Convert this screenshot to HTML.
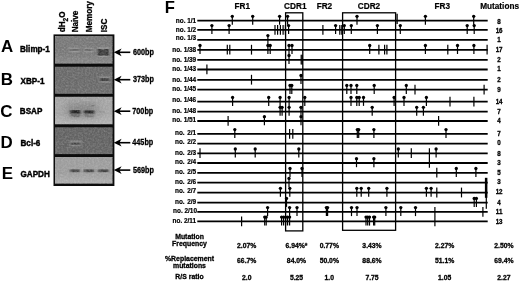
<!DOCTYPE html>
<html><head><meta charset="utf-8"><title>Figure</title>
<style>html,body{margin:0;padding:0;background:#fff;}body{width:520px;height:281px;position:relative;overflow:hidden;}</style></head>
<body>
<svg width="520" height="281" viewBox="0 0 520 281" style="position:absolute;left:0;top:0" font-family="'Liberation Sans', sans-serif" font-weight="bold" fill="#000">
<defs><filter id="b1" x="-50%" y="-200%" width="200%" height="500%"><feGaussianBlur stdDeviation="1.1 0.7"/></filter><filter id="b3" x="-50%" y="-50%" width="200%" height="200%"><feGaussianBlur stdDeviation="5 3.5"/></filter><filter id="b2" x="-50%" y="-200%" width="200%" height="500%"><feGaussianBlur stdDeviation="0.8"/></filter><filter id="noise" x="0" y="0" width="100%" height="100%"><feTurbulence type="fractalNoise" baseFrequency="0.55" numOctaves="2" seed="3" result="n"/><feColorMatrix type="matrix" values="0 0 0 0 1  0 0 0 0 1  0 0 0 0 1  0.5 0.5 0.5 0 -0.62"/></filter></defs>
<rect x="53.5" y="34.4" width="60.9" height="151.6" fill="#0c0c0c"/>
<linearGradient id="pg0" x1="0" y1="0" x2="0" y2="1"><stop offset="0" stop-color="#777777"/><stop offset="0.6" stop-color="#777777"/><stop offset="1" stop-color="#888888"/></linearGradient>
<rect x="55" y="36" width="57.5" height="27.8" fill="url(#pg0)"/>
<linearGradient id="pg1" x1="0" y1="0" x2="0" y2="1"><stop offset="0" stop-color="#696969"/><stop offset="0.6" stop-color="#696969"/><stop offset="1" stop-color="#6d6d6d"/></linearGradient>
<rect x="55" y="66.5" width="57.5" height="27.4" fill="url(#pg1)"/>
<linearGradient id="pg2" x1="0" y1="0" x2="0" y2="1"><stop offset="0" stop-color="#a4a4a4"/><stop offset="0.6" stop-color="#a4a4a4"/><stop offset="1" stop-color="#b2b2b2"/></linearGradient>
<rect x="55" y="96.5" width="57.5" height="28.0" fill="url(#pg2)"/>
<linearGradient id="pg3" x1="0" y1="0" x2="0" y2="1"><stop offset="0" stop-color="#626262"/><stop offset="0.6" stop-color="#626262"/><stop offset="1" stop-color="#666666"/></linearGradient>
<rect x="55" y="127.1" width="57.5" height="27.2" fill="url(#pg3)"/>
<linearGradient id="pg4" x1="0" y1="0" x2="0" y2="1"><stop offset="0" stop-color="#9c9c9c"/><stop offset="0.6" stop-color="#9c9c9c"/><stop offset="1" stop-color="#adadad"/></linearGradient>
<rect x="55" y="156.8" width="57.5" height="26.8" fill="url(#pg4)"/>
<clipPath id="cpC"><rect x="55" y="96.5" width="57.5" height="28"/></clipPath><g clip-path="url(#cpC)"><rect x="67" y="103" width="30" height="14" fill="#6a6a6a" opacity="0.55" filter="url(#b3)"/></g>
<rect x="68.5" y="47.5" width="11" height="5" fill="#a8a8a8" opacity="0.45" filter="url(#b1)"/>
<rect x="83.7" y="47.5" width="10" height="5" fill="#a8a8a8" opacity="0.45" filter="url(#b1)"/>
<rect x="96.9" y="47.0" width="13" height="10" fill="#a0a0a0" opacity="0.5" filter="url(#b1)"/>
<rect x="69.2" y="49.1" width="9.5" height="1.8" fill="#555" opacity="0.75" filter="url(#b1)"/>
<rect x="84.7" y="49.1" width="8" height="1.8" fill="#555" opacity="0.75" filter="url(#b1)"/>
<rect x="98.0" y="49.0" width="4.4" height="6.6" fill="#262626" opacity="0.92" filter="url(#b1)"/>
<rect x="104.1" y="49.0" width="4.4" height="6.6" fill="#262626" opacity="0.92" filter="url(#b1)"/>
<rect x="98.8" y="50.1" width="9" height="5" fill="#3a3a3a" opacity="0.8" filter="url(#b1)"/>
<rect x="99.2" y="76.3" width="11" height="6.5" fill="#a0a0a0" opacity="0.5" filter="url(#b1)"/>
<rect x="100.2" y="78.1" width="9" height="3" fill="#383838" opacity="0.95" filter="url(#b1)"/>
<rect x="70.3" y="110.2" width="9.8" height="3.4" fill="#1c1c1c" opacity="0.95" filter="url(#b1)"/>
<rect x="70.5" y="113.2" width="9.5" height="4" fill="#555" opacity="0.6" filter="url(#b1)"/>
<rect x="84.2" y="110.4" width="9.8" height="3.2" fill="#242424" opacity="0.95" filter="url(#b1)"/>
<rect x="84.3" y="113.2" width="9.5" height="4" fill="#606060" opacity="0.5" filter="url(#b1)"/>
<rect x="98.5" y="111.2" width="7" height="1.5" fill="#888" opacity="0.5" filter="url(#b1)"/>
<rect x="92.0" y="104.9" width="1.6" height="1.4" fill="#555" opacity="0.8" filter="url(#b1)"/>
<rect x="69.7" y="140.3" width="12" height="6" fill="#a0a0a0" opacity="0.5" filter="url(#b1)"/>
<rect x="71.1" y="142.7" width="9.2" height="2" fill="#3c3c3c" opacity="0.95" filter="url(#b1)"/>
<rect x="70.2" y="169.4" width="9.5" height="2.8" fill="#3a3a3a" opacity="0.9" filter="url(#b1)"/>
<rect x="84.0" y="169.4" width="10" height="2.8" fill="#3e3e3e" opacity="0.9" filter="url(#b1)"/>
<rect x="98.4" y="169.4" width="10" height="2.8" fill="#383838" opacity="0.9" filter="url(#b1)"/>
<rect x="55" y="36" width="57.5" height="147.6" filter="url(#noise)" opacity="0.42"/>
<rect x="54" y="63.8" width="60" height="2.7" fill="#0c0c0c"/>
<rect x="54" y="93.9" width="60" height="2.7" fill="#0c0c0c"/>
<rect x="54" y="124.5" width="60" height="2.7" fill="#0c0c0c"/>
<rect x="54" y="154.3" width="60" height="2.7" fill="#0c0c0c"/>
<path d="M130.3 52.3 L117 52.3" stroke="#000" stroke-width="1.6" fill="none"/>
<path d="M113.8 52.3 L121.6 48.4 L119.4 52.3 L121.6 56.199999999999996 Z" fill="#000"/>
<path d="M130.3 79.7 L117 79.7" stroke="#000" stroke-width="1.6" fill="none"/>
<path d="M113.8 79.7 L121.6 75.8 L119.4 79.7 L121.6 83.60000000000001 Z" fill="#000"/>
<path d="M130.3 111.2 L117 111.2" stroke="#000" stroke-width="1.6" fill="none"/>
<path d="M113.8 111.2 L121.6 107.3 L119.4 111.2 L121.6 115.10000000000001 Z" fill="#000"/>
<path d="M130.3 142.7 L117 142.7" stroke="#000" stroke-width="1.6" fill="none"/>
<path d="M113.8 142.7 L121.6 138.79999999999998 L119.4 142.7 L121.6 146.6 Z" fill="#000"/>
<path d="M130.3 170.1 L117 170.1" stroke="#000" stroke-width="1.6" fill="none"/>
<path d="M113.8 170.1 L121.6 166.2 L119.4 170.1 L121.6 174.0 Z" fill="#000"/>
<text transform="translate(133.0 54.8) scale(0.865 1)" font-size="8.4" text-anchor="start" stroke="#000" stroke-width="0.3">600bp</text>
<text transform="translate(133.0 81.9) scale(0.865 1)" font-size="8.4" text-anchor="start" stroke="#000" stroke-width="0.3">373bp</text>
<text transform="translate(132.3 113.8) scale(0.865 1)" font-size="8.4" text-anchor="start" stroke="#000" stroke-width="0.3">700bp</text>
<text transform="translate(132.3 145.3) scale(0.865 1)" font-size="8.4" text-anchor="start" stroke="#000" stroke-width="0.3">445bp</text>
<text transform="translate(133.0 173.1) scale(0.865 1)" font-size="8.4" text-anchor="start" stroke="#000" stroke-width="0.3">569bp</text>
<text x="1.1" y="51.9" font-size="16.9">A</text>
<text x="0.8" y="84.9" font-size="16.9">B</text>
<text x="0.3" y="116.5" font-size="16.9">C</text>
<text x="0.5" y="148" font-size="16.9">D</text>
<text x="1.8" y="179" font-size="16.9">E</text>
<text transform="translate(20.0 51.7) scale(0.945 1)" font-size="8.6" text-anchor="start" stroke="#000" stroke-width="0.4">Blimp-1</text>
<text transform="translate(20.5 83.6) scale(0.945 1)" font-size="8.6" text-anchor="start" stroke="#000" stroke-width="0.4">XBP-1</text>
<text transform="translate(19.8 113.7) scale(0.945 1)" font-size="8.6" text-anchor="start" stroke="#000" stroke-width="0.4">BSAP</text>
<text transform="translate(20.5 146) scale(0.945 1)" font-size="8.6" text-anchor="start" stroke="#000" stroke-width="0.4">Bcl-6</text>
<text transform="translate(20.5 176.8) scale(0.945 1)" font-size="8.6" text-anchor="start" stroke="#000" stroke-width="0.4">GAPDH</text>
<text transform="translate(64.5 32.3) rotate(-90) scale(0.885 1)" font-size="9.2" text-anchor="start" stroke="#000" stroke-width="0.3">dH<tspan font-size="7.4" dy="3">2</tspan><tspan dy="-3">O</tspan></text>
<text transform="translate(77.8 32.3) rotate(-90) scale(0.885 1)" font-size="9.2" text-anchor="start" stroke="#000" stroke-width="0.3">Naive</text>
<text transform="translate(91.9 32.3) rotate(-90) scale(0.885 1)" font-size="9.2" text-anchor="start" stroke="#000" stroke-width="0.3">Memory</text>
<text transform="translate(106.8 32.3) rotate(-90) scale(0.885 1)" font-size="9.2" text-anchor="start" stroke="#000" stroke-width="0.3">ISC</text>
<text x="164.8" y="12.6" font-size="16.6">F</text>
<text transform="translate(242.3 9.4) scale(0.925 1)" font-size="8.9" text-anchor="middle" stroke="#000" stroke-width="0.2">FR1</text>
<text transform="translate(295.3 9.4) scale(0.925 1)" font-size="8.9" text-anchor="middle" stroke="#000" stroke-width="0.2">CDR1</text>
<text transform="translate(324.4 9.4) scale(0.925 1)" font-size="8.9" text-anchor="middle" stroke="#000" stroke-width="0.2">FR2</text>
<text transform="translate(369 9.4) scale(0.925 1)" font-size="8.9" text-anchor="middle" stroke="#000" stroke-width="0.2">CDR2</text>
<text transform="translate(442.3 9.4) scale(0.925 1)" font-size="8.9" text-anchor="middle" stroke="#000" stroke-width="0.2">FR3</text>
<text transform="translate(499.6 9.4) scale(0.925 1)" font-size="8.9" text-anchor="middle" stroke="#000" stroke-width="0.2">Mutations</text>
<rect x="285.6" y="12.8" width="17.2" height="218.1" fill="none" stroke="#000" stroke-width="1.3"/>
<rect x="342.6" y="12.8" width="53" height="217.5" fill="none" stroke="#000" stroke-width="1.3"/>
<text x="196.2" y="22.85" text-anchor="end" font-size="6.45" stroke="#000" stroke-width="0.2">no. 1/1</text>
<path d="M197.3 20.6 L487.7 20.6" stroke="#000" stroke-width="1.8"/>
<text transform="translate(499.1 24.1) scale(0.9 1)" font-size="6.9" text-anchor="middle" stroke="#000" stroke-width="0.3">8</text>
<path d="M232.3 16.4 V24.8" stroke="#000" stroke-width="1.2"/>
<circle cx="232.3" cy="16.3" r="1.65"/>
<path d="M252.7 16.4 V24.8" stroke="#000" stroke-width="1.2"/>
<circle cx="252.7" cy="16.3" r="1.65"/>
<path d="M279.6 16.4 V24.8" stroke="#000" stroke-width="1.2"/>
<circle cx="279.6" cy="16.3" r="1.65"/>
<path d="M287.6 16.4 V24.8" stroke="#000" stroke-width="1.2"/>
<circle cx="287.6" cy="16.3" r="1.65"/>
<path d="M357 16.4 V24.8" stroke="#000" stroke-width="1.2"/>
<circle cx="357" cy="16.3" r="1.65"/>
<path d="M425.4 16.4 V24.8" stroke="#000" stroke-width="1.2"/>
<circle cx="425.4" cy="16.3" r="1.65"/>
<path d="M473.7 16.4 V24.8" stroke="#000" stroke-width="1.2"/>
<circle cx="473.7" cy="16.3" r="1.65"/>
<text x="196.2" y="31.95" text-anchor="end" font-size="6.45" stroke="#000" stroke-width="0.2">no. 1/2</text>
<path d="M197.3 29.9 L487.7 29.9" stroke="#000" stroke-width="1.8"/>
<text transform="translate(499.1 32.85) scale(0.9 1)" font-size="6.9" text-anchor="middle" stroke="#000" stroke-width="0.3">16</text>
<path d="M211.9 25.7 V34.1" stroke="#000" stroke-width="1.2"/>
<circle cx="211.9" cy="25.6" r="1.65"/>
<path d="M229.1 25.7 V34.1" stroke="#000" stroke-width="1.2"/>
<circle cx="229.1" cy="25.6" r="1.65"/>
<path d="M288.6 25.7 V34.1" stroke="#000" stroke-width="1.2"/>
<circle cx="288.6" cy="25.6" r="1.65"/>
<path d="M335.6 25.7 V34.1" stroke="#000" stroke-width="1.2"/>
<circle cx="335.6" cy="25.6" r="1.65"/>
<path d="M344.3 25.7 V34.1" stroke="#000" stroke-width="1.2"/>
<circle cx="344.3" cy="25.6" r="1.65"/>
<path d="M351.3 25.7 V34.1" stroke="#000" stroke-width="1.2"/>
<circle cx="351.3" cy="25.6" r="1.65"/>
<path d="M377.4 25.7 V34.1" stroke="#000" stroke-width="1.2"/>
<circle cx="377.4" cy="25.6" r="1.65"/>
<path d="M400.3 25.7 V34.1" stroke="#000" stroke-width="1.2"/>
<circle cx="400.3" cy="25.6" r="1.65"/>
<path d="M467.2 25.7 V34.1" stroke="#000" stroke-width="1.2"/>
<circle cx="467.2" cy="25.6" r="1.65"/>
<path d="M474.2 25.7 V34.1" stroke="#000" stroke-width="1.2"/>
<circle cx="474.2" cy="25.6" r="1.65"/>
<path d="M275 24.9 V34.7" stroke="#000" stroke-width="1.2"/>
<path d="M277.6 24.9 V34.7" stroke="#000" stroke-width="1.2"/>
<path d="M280.4 24.9 V34.7" stroke="#000" stroke-width="1.2"/>
<path d="M283.1 24.9 V34.7" stroke="#000" stroke-width="1.2"/>
<path d="M285.4 24.9 V34.7" stroke="#000" stroke-width="1.2"/>
<path d="M322.9 24.9 V34.7" stroke="#000" stroke-width="1.2"/>
<path d="M339.8 24.9 V34.7" stroke="#000" stroke-width="1.2"/>
<path d="M341.8 24.9 V34.7" stroke="#000" stroke-width="1.2"/>
<text x="196.2" y="39.95" text-anchor="end" font-size="6.45" stroke="#000" stroke-width="0.2">no. 1/3</text>
<path d="M197.3 39.9 L487.7 39.9" stroke="#000" stroke-width="1.8"/>
<text transform="translate(499.1 42.45) scale(0.9 1)" font-size="6.9" text-anchor="middle" stroke="#000" stroke-width="0.3">1</text>
<path d="M267.9 35.7 V44.1" stroke="#000" stroke-width="1.2"/>
<circle cx="267.9" cy="35.6" r="1.65"/>
<text x="196.2" y="51.95" text-anchor="end" font-size="6.45" stroke="#000" stroke-width="0.2">no. 1/38</text>
<path d="M197.3 49.8 L487.7 49.8" stroke="#000" stroke-width="1.8"/>
<text transform="translate(499.1 51.75) scale(0.9 1)" font-size="6.9" text-anchor="middle" stroke="#000" stroke-width="0.3">17</text>
<path d="M200 45.6 V54.0" stroke="#000" stroke-width="1.2"/>
<circle cx="200" cy="45.5" r="1.65"/>
<path d="M267.9 45.6 V54.0" stroke="#000" stroke-width="1.2"/>
<circle cx="267.9" cy="45.5" r="1.65"/>
<path d="M270.2 45.6 V54.0" stroke="#000" stroke-width="1.2"/>
<circle cx="270.2" cy="45.5" r="1.65"/>
<path d="M289 45.6 V54.0" stroke="#000" stroke-width="1.2"/>
<circle cx="289" cy="45.5" r="1.65"/>
<path d="M292 45.6 V54.0" stroke="#000" stroke-width="1.2"/>
<circle cx="292" cy="45.5" r="1.65"/>
<path d="M369.7 45.6 V54.0" stroke="#000" stroke-width="1.2"/>
<circle cx="369.7" cy="45.5" r="1.65"/>
<path d="M425.4 45.6 V54.0" stroke="#000" stroke-width="1.2"/>
<circle cx="425.4" cy="45.5" r="1.65"/>
<path d="M457.5 45.6 V54.0" stroke="#000" stroke-width="1.2"/>
<circle cx="457.5" cy="45.5" r="1.65"/>
<path d="M473.9 45.6 V54.0" stroke="#000" stroke-width="1.2"/>
<circle cx="473.9" cy="45.5" r="1.65"/>
<path d="M227.3 44.8 V54.6" stroke="#000" stroke-width="1.2"/>
<path d="M229.8 44.8 V54.6" stroke="#000" stroke-width="1.2"/>
<path d="M251.5 44.8 V54.6" stroke="#000" stroke-width="1.2"/>
<path d="M378.9 44.8 V54.6" stroke="#000" stroke-width="1.2"/>
<path d="M384.6 44.8 V54.6" stroke="#000" stroke-width="1.2"/>
<path d="M386.9 44.8 V54.6" stroke="#000" stroke-width="1.2"/>
<path d="M447.8 44.8 V54.6" stroke="#000" stroke-width="1.2"/>
<path d="M487.1 44.8 V54.6" stroke="#000" stroke-width="1.2"/>
<text x="196.2" y="61.95" text-anchor="end" font-size="6.45" stroke="#000" stroke-width="0.2">no. 1/39</text>
<path d="M197.3 59.8 L487.7 59.8" stroke="#000" stroke-width="1.8"/>
<text transform="translate(499.1 62.15) scale(0.9 1)" font-size="6.9" text-anchor="middle" stroke="#000" stroke-width="0.3">2</text>
<path d="M289 55.6 V64.0" stroke="#000" stroke-width="1.2"/>
<circle cx="289" cy="55.5" r="1.65"/>
<path d="M301.2 54.8 V64.6" stroke="#000" stroke-width="1.2"/>
<path d="M302.2 54.8 V64.6" stroke="#000" stroke-width="1.2"/>
<text x="196.2" y="71.35" text-anchor="end" font-size="6.45" stroke="#000" stroke-width="0.2">no. 1/43</text>
<path d="M197.3 69.5 L487.7 69.5" stroke="#000" stroke-width="1.8"/>
<text transform="translate(499.1 71.45) scale(0.9 1)" font-size="6.9" text-anchor="middle" stroke="#000" stroke-width="0.3">1</text>
<path d="M206.9 64.5 V74.3" stroke="#000" stroke-width="1.2"/>
<text x="196.2" y="81.75" text-anchor="end" font-size="6.45" stroke="#000" stroke-width="0.2">no. 1/44</text>
<path d="M197.3 79.8 L487.7 79.8" stroke="#000" stroke-width="1.8"/>
<text transform="translate(499.1 81.85) scale(0.9 1)" font-size="6.9" text-anchor="middle" stroke="#000" stroke-width="0.3">2</text>
<path d="M301 75.6 V84.0" stroke="#000" stroke-width="1.2"/>
<circle cx="301" cy="75.5" r="1.65"/>
<path d="M251.5 74.8 V84.6" stroke="#000" stroke-width="1.2"/>
<text x="196.2" y="90.75" text-anchor="end" font-size="6.45" stroke="#000" stroke-width="0.2">no. 1/45</text>
<path d="M197.3 89.7 L487.7 89.7" stroke="#000" stroke-width="1.8"/>
<text transform="translate(499.1 91.75) scale(0.9 1)" font-size="6.9" text-anchor="middle" stroke="#000" stroke-width="0.3">9</text>
<path d="M290 85.5 V93.9" stroke="#000" stroke-width="1.2"/>
<circle cx="290" cy="85.4" r="1.65"/>
<path d="M291.8 85.5 V93.9" stroke="#000" stroke-width="1.2"/>
<circle cx="291.8" cy="85.4" r="1.65"/>
<path d="M346.8 85.5 V93.9" stroke="#000" stroke-width="1.2"/>
<circle cx="346.8" cy="85.4" r="1.65"/>
<path d="M351 85.5 V93.9" stroke="#000" stroke-width="1.2"/>
<circle cx="351" cy="85.4" r="1.65"/>
<path d="M356.8 85.5 V93.9" stroke="#000" stroke-width="1.2"/>
<circle cx="356.8" cy="85.4" r="1.65"/>
<path d="M374.2 85.5 V93.9" stroke="#000" stroke-width="1.2"/>
<circle cx="374.2" cy="85.4" r="1.65"/>
<path d="M406.3 85.5 V93.9" stroke="#000" stroke-width="1.2"/>
<circle cx="406.3" cy="85.4" r="1.65"/>
<path d="M415 84.7 V94.5" stroke="#000" stroke-width="1.2"/>
<path d="M484.1 84.7 V94.5" stroke="#000" stroke-width="1.2"/>
<text x="196.2" y="102.45" text-anchor="end" font-size="6.45" stroke="#000" stroke-width="0.2">no. 1/46</text>
<path d="M197.3 101.7 L487.7 101.7" stroke="#000" stroke-width="1.8"/>
<text transform="translate(499.1 104.35) scale(0.9 1)" font-size="6.9" text-anchor="middle" stroke="#000" stroke-width="0.3">14</text>
<path d="M232.6 97.5 V105.9" stroke="#000" stroke-width="1.2"/>
<circle cx="232.6" cy="97.4" r="1.65"/>
<path d="M268.7 97.5 V105.9" stroke="#000" stroke-width="1.2"/>
<circle cx="268.7" cy="97.4" r="1.65"/>
<path d="M280.1 97.5 V105.9" stroke="#000" stroke-width="1.2"/>
<circle cx="280.1" cy="97.4" r="1.65"/>
<path d="M289.1 97.5 V105.9" stroke="#000" stroke-width="1.2"/>
<circle cx="289.1" cy="97.4" r="1.65"/>
<path d="M304.8 97.5 V105.9" stroke="#000" stroke-width="1.2"/>
<circle cx="304.8" cy="97.4" r="1.65"/>
<path d="M351 97.5 V105.9" stroke="#000" stroke-width="1.2"/>
<circle cx="351" cy="97.4" r="1.65"/>
<path d="M356.8 97.5 V105.9" stroke="#000" stroke-width="1.2"/>
<circle cx="356.8" cy="97.4" r="1.65"/>
<path d="M359.2 97.5 V105.9" stroke="#000" stroke-width="1.2"/>
<circle cx="359.2" cy="97.4" r="1.65"/>
<path d="M363.5 97.5 V105.9" stroke="#000" stroke-width="1.2"/>
<circle cx="363.5" cy="97.4" r="1.65"/>
<path d="M394.1 97.5 V105.9" stroke="#000" stroke-width="1.2"/>
<circle cx="394.1" cy="97.4" r="1.65"/>
<path d="M404 97.5 V105.9" stroke="#000" stroke-width="1.2"/>
<circle cx="404" cy="97.4" r="1.65"/>
<path d="M426.4 97.5 V105.9" stroke="#000" stroke-width="1.2"/>
<circle cx="426.4" cy="97.4" r="1.65"/>
<path d="M450 96.7 V106.5" stroke="#000" stroke-width="1.2"/>
<path d="M473.9 96.7 V106.5" stroke="#000" stroke-width="1.2"/>
<text x="196.2" y="112.65" text-anchor="end" font-size="6.45" stroke="#000" stroke-width="0.2">no. 1/48</text>
<path d="M197.3 111.6 L487.7 111.6" stroke="#000" stroke-width="1.8"/>
<text transform="translate(499.1 114.05) scale(0.9 1)" font-size="6.9" text-anchor="middle" stroke="#000" stroke-width="0.3">7</text>
<path d="M280.1 107.4 V115.8" stroke="#000" stroke-width="1.2"/>
<circle cx="280.1" cy="107.3" r="1.65"/>
<path d="M282.1 107.4 V115.8" stroke="#000" stroke-width="1.2"/>
<circle cx="282.1" cy="107.3" r="1.65"/>
<path d="M289.1 107.4 V115.8" stroke="#000" stroke-width="1.2"/>
<circle cx="289.1" cy="107.3" r="1.65"/>
<path d="M301 107.4 V115.8" stroke="#000" stroke-width="1.2"/>
<circle cx="301" cy="107.3" r="1.65"/>
<path d="M372.2 107.4 V115.8" stroke="#000" stroke-width="1.2"/>
<circle cx="372.2" cy="107.3" r="1.65"/>
<path d="M416.7 107.4 V115.8" stroke="#000" stroke-width="1.2"/>
<circle cx="416.7" cy="107.3" r="1.65"/>
<path d="M423.4 107.4 V115.8" stroke="#000" stroke-width="1.2"/>
<circle cx="423.4" cy="107.3" r="1.65"/>
<text x="196.2" y="121.75" text-anchor="end" font-size="6.45" stroke="#000" stroke-width="0.2">no. 1/51</text>
<path d="M197.3 121.0 L487.7 121.0" stroke="#000" stroke-width="1.8"/>
<text transform="translate(499.1 123.15) scale(0.9 1)" font-size="6.9" text-anchor="middle" stroke="#000" stroke-width="0.3">4</text>
<path d="M264.4 116.8 V125.2" stroke="#000" stroke-width="1.2"/>
<circle cx="264.4" cy="116.7" r="1.65"/>
<path d="M301 116.8 V125.2" stroke="#000" stroke-width="1.2"/>
<circle cx="301" cy="116.7" r="1.65"/>
<path d="M228.1 116.0 V125.8" stroke="#000" stroke-width="1.2"/>
<path d="M438.6 116.0 V125.8" stroke="#000" stroke-width="1.2"/>
<text x="175" y="135.25" font-size="6.45" stroke="#000" stroke-width="0.2">no.</text><text x="196.2" y="135.25" text-anchor="end" font-size="6.45" stroke="#000" stroke-width="0.2">2/1</text>
<path d="M197.3 133.9 L487.7 133.9" stroke="#000" stroke-width="1.8"/>
<text transform="translate(499.1 135.55) scale(0.9 1)" font-size="6.9" text-anchor="middle" stroke="#000" stroke-width="0.3">7</text>
<path d="M234.8 129.7 V138.1" stroke="#000" stroke-width="1.2"/>
<circle cx="234.8" cy="129.6" r="1.65"/>
<path d="M357.3 129.7 V138.1" stroke="#000" stroke-width="1.2"/>
<circle cx="357.3" cy="129.6" r="1.65"/>
<path d="M358.7 129.7 V138.1" stroke="#000" stroke-width="1.2"/>
<circle cx="358.7" cy="129.6" r="1.65"/>
<path d="M373.9 129.7 V138.1" stroke="#000" stroke-width="1.2"/>
<circle cx="373.9" cy="129.6" r="1.65"/>
<path d="M446 129.7 V138.1" stroke="#000" stroke-width="1.2"/>
<circle cx="446" cy="129.6" r="1.65"/>
<path d="M289.6 128.9 V138.7" stroke="#000" stroke-width="1.2"/>
<path d="M292.8 128.9 V138.7" stroke="#000" stroke-width="1.2"/>
<text x="175" y="144.45" font-size="6.45" stroke="#000" stroke-width="0.2">no.</text><text x="196.2" y="144.45" text-anchor="end" font-size="6.45" stroke="#000" stroke-width="0.2">2/2</text>
<path d="M197.3 143.6 L487.7 143.6" stroke="#000" stroke-width="1.8"/>
<text transform="translate(499.1 145.45) scale(0.9 1)" font-size="6.9" text-anchor="middle" stroke="#000" stroke-width="0.3">0</text>
<text x="175" y="155.25" font-size="6.45" stroke="#000" stroke-width="0.2">no.</text><text x="196.2" y="155.25" text-anchor="end" font-size="6.45" stroke="#000" stroke-width="0.2">2/3</text>
<path d="M197.3 153.3 L487.7 153.3" stroke="#000" stroke-width="1.8"/>
<text transform="translate(499.1 155.85) scale(0.9 1)" font-size="6.9" text-anchor="middle" stroke="#000" stroke-width="0.3">8</text>
<path d="M235.3 149.1 V157.5" stroke="#000" stroke-width="1.2"/>
<circle cx="235.3" cy="149.0" r="1.65"/>
<path d="M255.2 149.1 V157.5" stroke="#000" stroke-width="1.2"/>
<circle cx="255.2" cy="149.0" r="1.65"/>
<path d="M298.8 149.1 V157.5" stroke="#000" stroke-width="1.2"/>
<circle cx="298.8" cy="149.0" r="1.65"/>
<path d="M398.3 149.1 V157.5" stroke="#000" stroke-width="1.2"/>
<circle cx="398.3" cy="149.0" r="1.65"/>
<path d="M436.1 149.1 V157.5" stroke="#000" stroke-width="1.2"/>
<circle cx="436.1" cy="149.0" r="1.65"/>
<path d="M200 148.3 V158.1" stroke="#000" stroke-width="1.2"/>
<path d="M411.3 148.3 V158.1" stroke="#000" stroke-width="1.2"/>
<path d="M429.4 148.3 V158.1" stroke="#000" stroke-width="1.2"/>
<text x="175" y="164.35" font-size="6.45" stroke="#000" stroke-width="0.2">no.</text><text x="196.2" y="164.35" text-anchor="end" font-size="6.45" stroke="#000" stroke-width="0.2">2/4</text>
<path d="M197.3 163.0 L487.7 163.0" stroke="#000" stroke-width="1.8"/>
<text transform="translate(499.1 165.05) scale(0.9 1)" font-size="6.9" text-anchor="middle" stroke="#000" stroke-width="0.3">3</text>
<path d="M356.5 158.8 V167.2" stroke="#000" stroke-width="1.2"/>
<circle cx="356.5" cy="158.7" r="1.65"/>
<path d="M373.9 158.8 V167.2" stroke="#000" stroke-width="1.2"/>
<circle cx="373.9" cy="158.7" r="1.65"/>
<path d="M429.4 158.0 V167.8" stroke="#000" stroke-width="1.2"/>
<text x="175" y="173.65" font-size="6.45" stroke="#000" stroke-width="0.2">no.</text><text x="196.2" y="173.65" text-anchor="end" font-size="6.45" stroke="#000" stroke-width="0.2">2/5</text>
<path d="M197.3 172.8 L487.7 172.8" stroke="#000" stroke-width="1.8"/>
<text transform="translate(499.1 174.85) scale(0.9 1)" font-size="6.9" text-anchor="middle" stroke="#000" stroke-width="0.3">5</text>
<path d="M290 168.6 V177.0" stroke="#000" stroke-width="1.2"/>
<circle cx="290" cy="168.5" r="1.65"/>
<path d="M302 168.6 V177.0" stroke="#000" stroke-width="1.2"/>
<circle cx="302" cy="168.5" r="1.65"/>
<path d="M456.3 168.6 V177.0" stroke="#000" stroke-width="1.2"/>
<circle cx="456.3" cy="168.5" r="1.65"/>
<path d="M475.9 168.6 V177.0" stroke="#000" stroke-width="1.2"/>
<circle cx="475.9" cy="168.5" r="1.65"/>
<path d="M436.8 167.8 V177.6" stroke="#000" stroke-width="1.2"/>
<text x="175" y="183.75" font-size="6.45" stroke="#000" stroke-width="0.2">no.</text><text x="196.2" y="183.75" text-anchor="end" font-size="6.45" stroke="#000" stroke-width="0.2">2/6</text>
<path d="M197.3 182.7 L487.7 182.7" stroke="#000" stroke-width="1.8"/>
<text transform="translate(499.1 184.45) scale(0.9 1)" font-size="6.9" text-anchor="middle" stroke="#000" stroke-width="0.3">3</text>
<path d="M289 178.5 V186.9" stroke="#000" stroke-width="1.2"/>
<circle cx="289" cy="178.4" r="1.65"/>
<text x="175" y="193.45" font-size="6.45" stroke="#000" stroke-width="0.2">no.</text><text x="196.2" y="193.45" text-anchor="end" font-size="6.45" stroke="#000" stroke-width="0.2">2/7</text>
<path d="M197.3 192.6 L487.7 192.6" stroke="#000" stroke-width="1.8"/>
<text transform="translate(499.1 193.95) scale(0.9 1)" font-size="6.9" text-anchor="middle" stroke="#000" stroke-width="0.3">12</text>
<path d="M280.4 188.4 V196.8" stroke="#000" stroke-width="1.2"/>
<circle cx="280.4" cy="188.3" r="1.65"/>
<path d="M289.8 188.4 V196.8" stroke="#000" stroke-width="1.2"/>
<circle cx="289.8" cy="188.3" r="1.65"/>
<path d="M356.8 188.4 V196.8" stroke="#000" stroke-width="1.2"/>
<circle cx="356.8" cy="188.3" r="1.65"/>
<path d="M361.2 188.4 V196.8" stroke="#000" stroke-width="1.2"/>
<circle cx="361.2" cy="188.3" r="1.65"/>
<path d="M368.7 188.4 V196.8" stroke="#000" stroke-width="1.2"/>
<circle cx="368.7" cy="188.3" r="1.65"/>
<path d="M386.9 188.4 V196.8" stroke="#000" stroke-width="1.2"/>
<circle cx="386.9" cy="188.3" r="1.65"/>
<path d="M426.4 188.4 V196.8" stroke="#000" stroke-width="1.2"/>
<circle cx="426.4" cy="188.3" r="1.65"/>
<path d="M431.1 188.4 V196.8" stroke="#000" stroke-width="1.2"/>
<circle cx="431.1" cy="188.3" r="1.65"/>
<path d="M436.8 187.6 V197.4" stroke="#000" stroke-width="1.2"/>
<path d="M461.5 187.6 V197.4" stroke="#000" stroke-width="1.2"/>
<text x="175" y="204.25" font-size="6.45" stroke="#000" stroke-width="0.2">no.</text><text x="196.2" y="204.25" text-anchor="end" font-size="6.45" stroke="#000" stroke-width="0.2">2/9</text>
<path d="M197.3 202.7 L487.7 202.7" stroke="#000" stroke-width="1.8"/>
<text transform="translate(499.1 205.05) scale(0.9 1)" font-size="6.9" text-anchor="middle" stroke="#000" stroke-width="0.3">4</text>
<path d="M286.5 198.5 V206.9" stroke="#000" stroke-width="1.2"/>
<circle cx="286.5" cy="198.4" r="1.65"/>
<path d="M474.2 198.5 V206.9" stroke="#000" stroke-width="1.2"/>
<circle cx="474.2" cy="198.4" r="1.65"/>
<path d="M476.4 198.5 V206.9" stroke="#000" stroke-width="1.2"/>
<circle cx="476.4" cy="198.4" r="1.65"/>
<text x="197.0" y="213.45" text-anchor="end" font-size="6.45" stroke="#000" stroke-width="0.2">no. 2/10</text>
<path d="M197.3 211.9 L487.7 211.9" stroke="#000" stroke-width="1.8"/>
<text transform="translate(499.1 214.35) scale(0.9 1)" font-size="6.9" text-anchor="middle" stroke="#000" stroke-width="0.3">11</text>
<path d="M267.6 207.7 V216.1" stroke="#000" stroke-width="1.2"/>
<circle cx="267.6" cy="207.6" r="1.65"/>
<path d="M289.6 207.7 V216.1" stroke="#000" stroke-width="1.2"/>
<circle cx="289.6" cy="207.6" r="1.65"/>
<path d="M297 207.7 V216.1" stroke="#000" stroke-width="1.2"/>
<circle cx="297" cy="207.6" r="1.65"/>
<path d="M326.4 207.7 V216.1" stroke="#000" stroke-width="1.2"/>
<circle cx="326.4" cy="207.6" r="1.65"/>
<path d="M327.6 207.7 V216.1" stroke="#000" stroke-width="1.2"/>
<circle cx="327.6" cy="207.6" r="1.65"/>
<path d="M351.5 207.7 V216.1" stroke="#000" stroke-width="1.2"/>
<circle cx="351.5" cy="207.6" r="1.65"/>
<path d="M357 207.7 V216.1" stroke="#000" stroke-width="1.2"/>
<circle cx="357" cy="207.6" r="1.65"/>
<path d="M385.9 207.7 V216.1" stroke="#000" stroke-width="1.2"/>
<circle cx="385.9" cy="207.6" r="1.65"/>
<path d="M400.8 207.7 V216.1" stroke="#000" stroke-width="1.2"/>
<circle cx="400.8" cy="207.6" r="1.65"/>
<path d="M415.5 207.7 V216.1" stroke="#000" stroke-width="1.2"/>
<circle cx="415.5" cy="207.6" r="1.65"/>
<path d="M434.9 206.9 V216.7" stroke="#000" stroke-width="1.2"/>
<path d="M482.9 206.9 V216.7" stroke="#000" stroke-width="1.2"/>
<text x="196.2" y="222.75" text-anchor="end" font-size="6.45" stroke="#000" stroke-width="0.2">no. 2/11</text>
<path d="M197.3 221.4 L487.7 221.4" stroke="#000" stroke-width="1.8"/>
<text transform="translate(499.1 223.55) scale(0.9 1)" font-size="6.9" text-anchor="middle" stroke="#000" stroke-width="0.3">13</text>
<path d="M264.7 217.2 V225.6" stroke="#000" stroke-width="1.2"/>
<circle cx="264.7" cy="217.1" r="1.65"/>
<path d="M266.2 217.2 V225.6" stroke="#000" stroke-width="1.2"/>
<circle cx="266.2" cy="217.1" r="1.65"/>
<path d="M281.6 217.2 V225.6" stroke="#000" stroke-width="1.2"/>
<circle cx="281.6" cy="217.1" r="1.65"/>
<path d="M283.6 217.2 V225.6" stroke="#000" stroke-width="1.2"/>
<circle cx="283.6" cy="217.1" r="1.65"/>
<path d="M285.6 217.2 V225.6" stroke="#000" stroke-width="1.2"/>
<circle cx="285.6" cy="217.1" r="1.65"/>
<path d="M287.6 217.2 V225.6" stroke="#000" stroke-width="1.2"/>
<circle cx="287.6" cy="217.1" r="1.65"/>
<path d="M289.6 217.2 V225.6" stroke="#000" stroke-width="1.2"/>
<circle cx="289.6" cy="217.1" r="1.65"/>
<path d="M366 217.2 V225.6" stroke="#000" stroke-width="1.2"/>
<circle cx="366" cy="217.1" r="1.65"/>
<path d="M367.7 217.2 V225.6" stroke="#000" stroke-width="1.2"/>
<circle cx="367.7" cy="217.1" r="1.65"/>
<path d="M369.5 217.2 V225.6" stroke="#000" stroke-width="1.2"/>
<circle cx="369.5" cy="217.1" r="1.65"/>
<path d="M373.6 217.2 V225.6" stroke="#000" stroke-width="1.2"/>
<circle cx="373.6" cy="217.1" r="1.65"/>
<path d="M374.7 217.2 V225.6" stroke="#000" stroke-width="1.2"/>
<circle cx="374.7" cy="217.1" r="1.65"/>
<path d="M241.6 216.4 V226.2" stroke="#000" stroke-width="1.2"/>
<path d="M434.9 216.4 V226.2" stroke="#000" stroke-width="1.2"/>
<rect x="484.9" y="177.8" width="2.5" height="20"/><rect x="485.7" y="197" width="1.2" height="11.8"/>
<path d="M397.1 13.8 V24" stroke="#000" stroke-width="1.3"/>
<text transform="translate(189.5 238.6) scale(0.945 1)" font-size="7.3" text-anchor="middle" stroke="#000" stroke-width="0.3">Mutation</text>
<text transform="translate(189.5 246.2) scale(0.945 1)" font-size="7.3" text-anchor="middle" stroke="#000" stroke-width="0.3">Frequency</text>
<text transform="translate(189.5 260.7) scale(0.945 1)" font-size="7.3" text-anchor="middle" stroke="#000" stroke-width="0.3">%Replacement</text>
<text transform="translate(189.5 268.1) scale(0.945 1)" font-size="7.3" text-anchor="middle" stroke="#000" stroke-width="0.3">mutations</text>
<text transform="translate(189.5 278.9) scale(0.945 1)" font-size="7.3" text-anchor="middle" stroke="#000" stroke-width="0.3">R/S ratio</text>
<text transform="translate(246.7 248.4) scale(0.945 1)" font-size="7.2" text-anchor="middle" stroke="#000" stroke-width="0.3">2.07%</text>
<text transform="translate(296.5 248.4) scale(0.945 1)" font-size="7.2" text-anchor="middle" stroke="#000" stroke-width="0.3">6.94%*</text>
<text transform="translate(329.3 248.4) scale(0.945 1)" font-size="7.2" text-anchor="middle" stroke="#000" stroke-width="0.3">0.77%</text>
<text transform="translate(372 248.4) scale(0.945 1)" font-size="7.2" text-anchor="middle" stroke="#000" stroke-width="0.3">3.43%</text>
<text transform="translate(444.6 248.4) scale(0.945 1)" font-size="7.2" text-anchor="middle" stroke="#000" stroke-width="0.3">2.27%</text>
<text transform="translate(503.9 248.4) scale(0.945 1)" font-size="7.2" text-anchor="middle" stroke="#000" stroke-width="0.3">2.50%</text>
<text transform="translate(246.7 262.9) scale(0.945 1)" font-size="7.2" text-anchor="middle" stroke="#000" stroke-width="0.3">66.7%</text>
<text transform="translate(296.5 262.9) scale(0.945 1)" font-size="7.2" text-anchor="middle" stroke="#000" stroke-width="0.3">84.0%</text>
<text transform="translate(329.3 262.9) scale(0.945 1)" font-size="7.2" text-anchor="middle" stroke="#000" stroke-width="0.3">50.0%</text>
<text transform="translate(372 262.9) scale(0.945 1)" font-size="7.2" text-anchor="middle" stroke="#000" stroke-width="0.3">88.6%</text>
<text transform="translate(444.6 262.9) scale(0.945 1)" font-size="7.2" text-anchor="middle" stroke="#000" stroke-width="0.3">51.1%</text>
<text transform="translate(503.9 262.9) scale(0.945 1)" font-size="7.2" text-anchor="middle" stroke="#000" stroke-width="0.3">69.4%</text>
<text transform="translate(246.7 280.1) scale(0.945 1)" font-size="7.2" text-anchor="middle" stroke="#000" stroke-width="0.3">2.0</text>
<text transform="translate(296.5 280.1) scale(0.945 1)" font-size="7.2" text-anchor="middle" stroke="#000" stroke-width="0.3">5.25</text>
<text transform="translate(329.3 280.1) scale(0.945 1)" font-size="7.2" text-anchor="middle" stroke="#000" stroke-width="0.3">1.0</text>
<text transform="translate(372 280.1) scale(0.945 1)" font-size="7.2" text-anchor="middle" stroke="#000" stroke-width="0.3">7.75</text>
<text transform="translate(444.6 280.1) scale(0.945 1)" font-size="7.2" text-anchor="middle" stroke="#000" stroke-width="0.3">1.05</text>
<text transform="translate(503.9 280.1) scale(0.945 1)" font-size="7.2" text-anchor="middle" stroke="#000" stroke-width="0.3">2.27</text>
</svg>
</body></html>
